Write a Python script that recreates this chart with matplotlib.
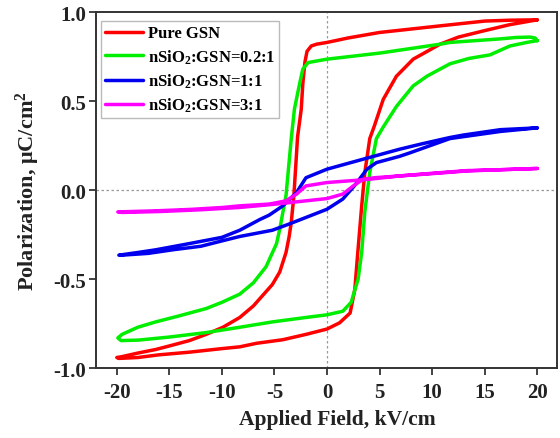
import matplotlib
matplotlib.use("Agg")
import matplotlib.pyplot as plt

plt.rcParams['font.family'] = ['Liberation Serif', 'DejaVu Serif']
plt.rcParams['font.weight'] = 'bold'
plt.rcParams['axes.unicode_minus'] = False
plt.rcParams['mathtext.fontset'] = 'custom'
plt.rcParams['mathtext.rm'] = 'Liberation Serif:bold'
plt.rcParams['mathtext.it'] = 'Liberation Serif:bold'
plt.rcParams['mathtext.bf'] = 'Liberation Serif:bold'

labels = ["Pure GSN", "nSiO$_2$:GSN=0.2:1", "nSiO$_2$:GSN=1:1", "nSiO$_2$:GSN=3:1"]
colors = ["#ff0000", "#00ee00", "#0000ee", "#ff00ff"]

# Pure GSN loop (upper branch from +20 to -20, then lower branch back)
red_x = [20, 17.5, 15, 10.75, 5, 2, 0, -1, -1.5, -1.9, -2.1, -2.3, -2.45, -2.8, -3.15, -3.4, -3.6, -3.9,
         -4.5, -5.2, -6.1, -7.0, -8.3, -9.9, -11.5, -13.1, -15, -16.3, -18, -19.5, -20,
         -19.8, -18, -16, -13.1, -10, -8.3, -6.7, -4.2, -2, 0, 1.2, 2.2, 2.65, 2.9, 3.3, 3.6, 4.07,
         4.5, 5.35, 6.6, 8.2, 10.75, 12.5, 14.9, 17.4, 20]
red_y = [0.957, 0.955, 0.95, 0.923, 0.886, 0.855, 0.83, 0.82, 0.81, 0.78, 0.72, 0.6, 0.455, 0.30, -0.03, -0.18, -0.26, -0.35,
         -0.46, -0.53, -0.59, -0.65, -0.715, -0.77, -0.81, -0.845, -0.875, -0.895, -0.915, -0.935, -0.94,
         -0.945, -0.94, -0.925, -0.91, -0.89, -0.88, -0.86, -0.84, -0.81, -0.78, -0.745, -0.69, -0.556, -0.37, -0.088, 0.1, 0.29,
         0.36, 0.51, 0.64, 0.736, 0.82, 0.86, 0.895, 0.93, 0.957]

# nSiO2:GSN = 0.2:1
green_x = [20, 19.8, 19.3, 18, 16.5, 11.7, 10.75, 5, 0, -1.8, -2.3, -2.6, -3.1, -3.4, -3.9, -4.5, -4.8, -5.8,
           -7, -8.3, -10, -11.5, -14, -16.3, -18, -19.5, -19.9,
           -19.6, -17.9, -15, -11.5, -8.3, -5.2, -2, 0, 1.5, 2.3, 2.96, 3.3, 3.6, 4.07, 4.7, 5.3, 6.6, 8.2,
           9.5, 10.75, 11.7, 13.5, 15.5, 17.4, 19.0, 20]
green_y = [0.84, 0.855, 0.86, 0.858, 0.85, 0.83, 0.82, 0.77, 0.736, 0.717, 0.68, 0.6, 0.455, 0.29, -0.03, -0.22, -0.3, -0.43,
           -0.52, -0.584, -0.63, -0.665, -0.705, -0.74, -0.77, -0.81, -0.83,
           -0.845, -0.842, -0.825, -0.80, -0.77, -0.74, -0.715, -0.70, -0.68, -0.63, -0.50, -0.35, -0.12, 0.1, 0.29, 0.35, 0.47, 0.586,
           0.64, 0.68, 0.71, 0.74, 0.76, 0.81, 0.83, 0.84]

# nSiO2:GSN = 1:1
blue_x = [20, 16.5, 13, 11.7, 9, 6.9, 3.8, 0, -2, -2.9, -4.2, -5.5, -6.4, -8.3, -10, -13.1, -16.3, -18, -19.8,
          -19.5, -17, -14.7, -12, -10, -8.3, -5.2, -3.6, 0, 1.5, 2.6, 3.8, 4.7, 6.9, 7.9, 11.7, 16.5, 20]
blue_y = [0.35, 0.34, 0.31, 0.296, 0.26, 0.23, 0.18, 0.118, 0.07, -0.013, -0.088, -0.14, -0.165, -0.225, -0.265, -0.30, -0.335, -0.35, -0.365,
          -0.365, -0.355, -0.335, -0.315, -0.285, -0.26, -0.225, -0.19, -0.107, -0.05, 0.024, 0.118, 0.155, 0.19, 0.21, 0.29, 0.33, 0.35]

# nSiO2:GSN = 3:1
mag_x = [20, 16.5, 13.3, 10, 6.9, 3.8, 0, -2, -2.9, -3.9, -5.5, -8.3, -9.9, -13, -16.3, -19.9,
         -19.5, -16, -12, -8.3, -5.2, -3.6, 0, 1.5, 2.5, 3.4, 4.5, 6.9, 10, 13.3, 16.5, 20]
mag_y = [0.122, 0.115, 0.11, 0.095, 0.08, 0.06, 0.043, 0.024, -0.022, -0.06, -0.078, -0.088, -0.097, -0.108, -0.116, -0.122,
         -0.125, -0.12, -0.11, -0.097, -0.08, -0.07, -0.047, -0.022, 0.024, 0.06, 0.07, 0.08, 0.093, 0.108, 0.115, 0.122]

x_ticks = [-20, -15, -10, -5, 0, 5, 10, 15, 20]
y_ticks = [-1.0, -0.5, 0.0, 0.5, 1.0]
y_ticklabels = ["-1.0", "-0.5", "0.0", "0.5", "1.0"]

fig = plt.figure(figsize=(5.6, 4.39), dpi=100)
ax = fig.add_axes([0.171, 0.159, 0.824, 0.811])

ax.axvline(0, color="#999999", lw=0.9, ls=(0, (2, 2)), zorder=1)
ax.axhline(0, color="#999999", lw=0.9, ls=(0, (2, 2)), zorder=1)

series = [(red_x, red_y), (green_x, green_y), (blue_x, blue_y), (mag_x, mag_y)]
for (xs, ys), c, lab in zip(series, colors, labels):
    ax.plot(xs, ys, color=c, lw=2.5, label=lab, solid_joinstyle='round', solid_capstyle='round', zorder=3)

ax.set_xlim(-22, 21.9)
ax.set_ylim(-1.0, 1.0)
ax.set_xticks(x_ticks)
ax.set_xticklabels([str(t) for t in x_ticks])
ax.set_yticks(y_ticks)
ax.set_yticklabels(y_ticklabels)
ax.tick_params(axis='both', direction='out', length=5, width=1.2, labelsize=15, colors='#222222',
               top=False, right=False)
ax.tick_params(axis='x', pad=5)
ax.tick_params(axis='y', pad=2)
for lab in ax.get_xticklabels() + ax.get_yticklabels():
    lab.set_fontweight('bold')
    lab.set_color('#222222')
for sp in ax.spines.values():
    sp.set_linewidth(1.4)
    sp.set_color('#333333')

ax.set_xlabel("Applied Field, kV/cm", fontsize=15.5, fontweight='bold', color='#222222', labelpad=8)
ax.xaxis.set_label_coords(0.523, -0.115)
ax.set_ylabel("Polarization, \u03bcC/cm$^2$", fontsize=16, fontweight='bold', color='#222222', labelpad=8)

leg = ax.legend(loc='upper left', bbox_to_anchor=(0.004, 0.984), fontsize=12, frameon=True, fancybox=False,
                handlelength=2.3, handletextpad=0.25, borderpad=0.25, labelspacing=0.35, borderaxespad=0.2)
leg.get_frame().set_edgecolor('#aaaaaa')
leg.get_frame().set_linewidth(1.0)
for t in leg.get_texts():
    t.set_fontweight('bold')

fig.savefig("out.png", dpi=100)
